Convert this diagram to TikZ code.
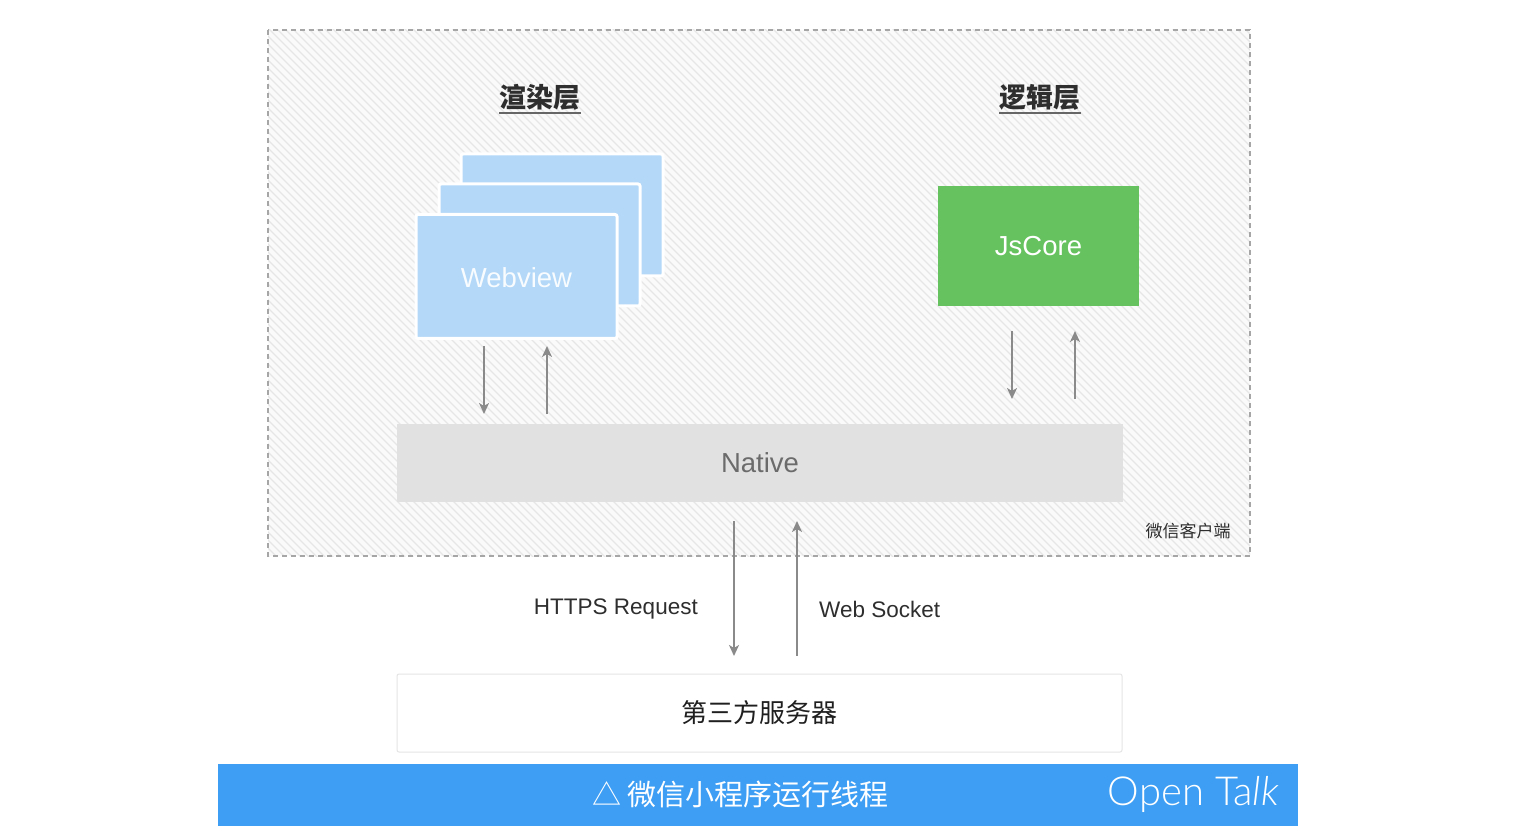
\documentclass[tikz,border=0pt]{standalone}
\usepackage{fontspec}
\setmainfont{Noto Sans CJK SC}
\newfontfamily\latin{Liberation Sans}
\newfontfamily\cjk{Noto Sans CJK SC}
\newfontfamily\talkfont{Lato Light}
\usetikzlibrary{arrows.meta}
\definecolor{hatch}{HTML}{E6E6E6}
\definecolor{hatchbg}{HTML}{FAFAFA}
\definecolor{webblue}{HTML}{B3D8F8}
\definecolor{jsgreen}{HTML}{66C25E}
\definecolor{nativegray}{HTML}{E1E1E1}
\definecolor{barblue}{HTML}{3D9EF4}
\definecolor{arrgray}{HTML}{8A8A8A}
\definecolor{txtdark}{HTML}{2E2E2E}
\tikzset{
  webbox/.style={draw=white, line width=3pt, fill=webblue, rounded corners=2pt, minimum width=201, minimum height=122, inner sep=0},
  greenbox/.style={fill=jsgreen, minimum width=201, minimum height=120, inner sep=0},
  nativebox/.style={fill=nativegray, minimum width=726, minimum height=78, inner sep=0},
  serverbox/.style={fill=white, draw=black!10, line width=1pt, rounded corners=2pt, minimum width=725, minimum height=78, inner sep=0},
  flowarrow/.style={draw=arrgray, line width=1.7pt, -{Stealth[length=11pt,width=10pt,inset=3pt]}},
  layertitle/.style={font=\cjk\bfseries\fontsize{27}{30}\selectfont, text=txtdark, inner sep=0},
  boxtext/.style={font=\latin\fontsize{27.5}{30}\selectfont},
  flowlabel/.style={font=\latin\fontsize{22.5}{26}\selectfont, text=txtdark, inner sep=0},
}
\begin{document}
\begin{tikzpicture}[x=1pt,y=-1pt]
\useasboundingbox (0,0) rectangle (1516,826);
\fill[white] (0,0) rectangle (1516,826);

% hatched client area
\begin{scope}
\clip (268,30) rectangle (1250,556);
\fill[hatchbg] (268,30) rectangle (1250,556);
\foreach \i in {0,...,192}{
  \draw[hatch, line width=1.3pt] ({268-530+\i*8},26) -- ++(534,534);
}
\end{scope}
\draw[black!35, line width=1.3pt, dash pattern=on 5pt off 4pt] (268,30) rectangle (1250,556);

% titles
\node[layertitle] (rtitle) at (540,97) {渲染层};
\draw[black!60, line width=2.2pt] ([yshift=-3pt]rtitle.south west) -- ([yshift=-3pt]rtitle.south east);
\node[layertitle] (ltitle) at (1040,97) {逻辑层};
\draw[black!60, line width=2.2pt] ([yshift=-3pt]ltitle.south west) -- ([yshift=-3pt]ltitle.south east);

% webview stack
\node[webbox, minimum width=202, minimum height=122] (wv3) at (562,215) {};
\node[webbox] (wv2) at (539.5,245) {};
\node[webbox, minimum height=124] (wv1) at (516.5,276.5) {};
\node[boxtext, text=white!92!webblue] (wvtext) at (516.5,278) {Webview};

% jscore
\node[greenbox, boxtext, text=white] (js) at (1038.5,246) {JsCore};

% native
\node[nativebox, boxtext, text=black!58] (native) at (760,463) {Native};

% client label
\node[font=\cjk\fontsize{17}{20}\selectfont, text=txtdark] (client) at (1188,531) {微信客户端};

% server
\node[serverbox, font=\cjk\fontsize{26}{30}\selectfont, text=black!88] (server) at (759.5,713) {第三方服务器};

% arrow endpoints
\coordinate (wa1) at (484,346); \coordinate (wa2) at (484,414);
\coordinate (wb1) at (547,414); \coordinate (wb2) at (547,346);
\coordinate (ja1) at (1012,331); \coordinate (ja2) at (1012,399);
\coordinate (jb1) at (1075,399); \coordinate (jb2) at (1075,331);
\coordinate (sa1) at (734,521); \coordinate (sa2) at (734,656);
\coordinate (sb1) at (797,656); \coordinate (sb2) at (797,521);

\draw[flowarrow] (wa1) -- (wa2);
\draw[flowarrow] (wb1) -- (wb2);
\draw[flowarrow] (ja1) -- (ja2);
\draw[flowarrow] (jb1) -- (jb2);
\draw[flowarrow] (sa1) -- (sa2);
\draw[flowarrow] (sb1) -- (sb2);

\node[flowlabel, anchor=east] (https) at (698,609) {HTTPS Request};
\node[flowlabel, anchor=west] (ws) at (819,609) {Web Socket};

% bottom bar
\fill[barblue] (218,764) rectangle (1298,826);
\node[font=\cjk\fontsize{29}{32}\selectfont, text=white, anchor=west, inner sep=0] (caption) at (592,794) {△ 微信小程序运行线程};
\node[font=\talkfont\fontsize{40}{42}\selectfont, text=white, anchor=east, inner sep=0] (brand) at (1279,794) {Open Ta\textit{lk}};
\end{tikzpicture}
\end{document}
